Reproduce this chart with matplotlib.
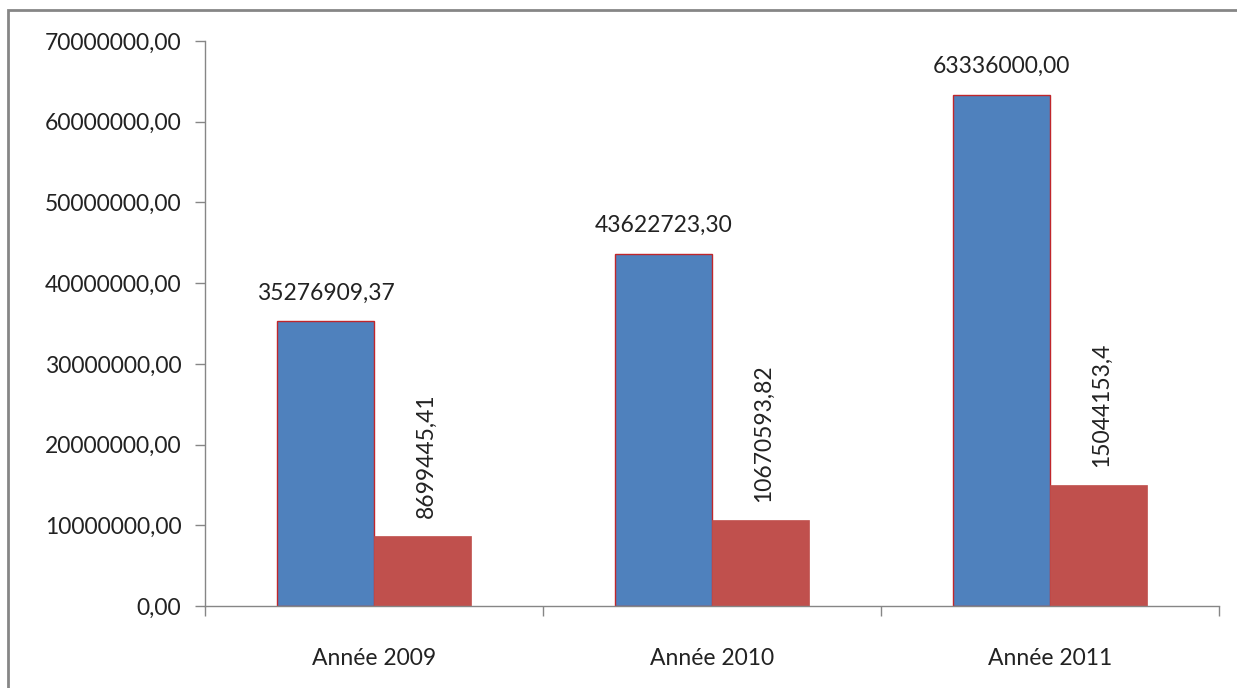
import matplotlib.pyplot as plt
from matplotlib.patches import Rectangle
import numpy as np

plt.rcParams['font.family'] = ['Lato', 'DejaVu Sans']

# data
categories = ['Année 2009', 'Année 2010', 'Année 2011']
serie_bleue = [35276909.37, 43622723.30, 63336000.00]
serie_rouge = [8699445.41, 10670593.82, 15044153.4]
labels_bleue = ['35276909,37', '43622723,30', '63336000,00']
labels_rouge = ['8699445,41', '10670593,82', '15044153,4']
yticks = np.arange(0, 70000001, 10000000)

fs = 16.5

fig = plt.figure(figsize=(12.37, 6.88), dpi=100)
# outer chart border (only top/left visible in the picture)
fig.patches.append(Rectangle((8 / 1237, -0.1), 1.2, 1.1 - 10 / 688,
                             transform=fig.transFigure, fill=False,
                             edgecolor='#868686', linewidth=2))

ax = fig.add_axes([205 / 1237, 1 - 606 / 688, (1219 - 205) / 1237, (606 - 41) / 688])

x = np.arange(len(categories))
w = 0.287
ax.bar(x - w / 2, serie_bleue, w, color='#4F81BD', edgecolor='#C0262B', linewidth=1)
ax.bar(x + w / 2, serie_rouge, w, color='#C0504D', edgecolor='#C0504D', linewidth=0.5)

for xi, v, t in zip(x, serie_bleue, labels_bleue):
    ax.text(xi - w / 2, v + 2200000, t, ha='center', va='bottom', fontsize=fs, color='#222222')
for xi, v, t in zip(x, serie_rouge, labels_rouge):
    ax.text(xi + w / 2 + 0.01, v + 2200000, t, ha='center', va='bottom', rotation=90,
            fontsize=fs, color='#222222')

ax.set_xlim(-0.5, 2.5)
ax.set_ylim(0, 70000000)
ax.set_yticks(yticks)
ax.set_yticklabels([f'{int(v)},00' for v in yticks], fontsize=fs, color='#222222')
ax.set_xticks(x)
ax.set_xticklabels(categories, fontsize=fs, color='#222222')
ax.tick_params(axis='x', length=0, pad=30)
ax.tick_params(axis='y', length=7, width=1, color='#868686', pad=10)
ax.set_xticks([-0.5, 0.5, 1.5, 2.5], minor=True)
ax.tick_params(axis='x', which='minor', length=7, width=1, color='#868686')

for s in ['top', 'right']:
    ax.spines[s].set_visible(False)
for s in ['left', 'bottom']:
    ax.spines[s].set_color('#868686')
    ax.spines[s].set_linewidth(1)

fig.savefig('out.png', dpi=100, facecolor='white')
